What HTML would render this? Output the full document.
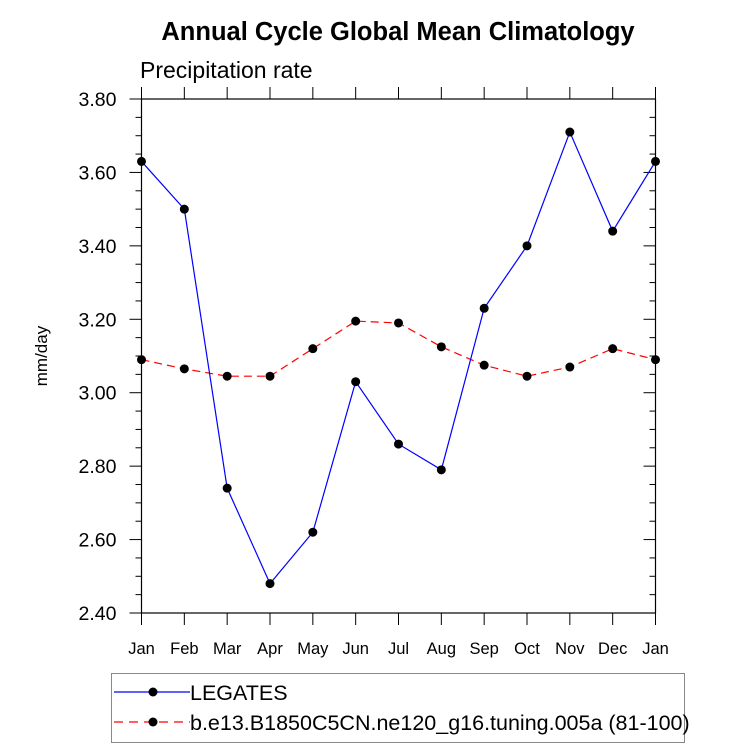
<!DOCTYPE html>
<html><head><meta charset="utf-8"><style>
body{margin:0;background:#fff;}
svg{font-family:"Liberation Sans",sans-serif;}
</style></head><body>
<svg id="chart" width="733" height="748">
<text x="398" y="40" text-anchor="middle" font-size="25.5" font-weight="bold">Annual Cycle Global Mean Climatology</text>
<text x="140" y="78" font-size="23">Precipitation rate</text>
<text transform="translate(47,356) rotate(-90)" text-anchor="middle" font-size="17">mm/day</text>
<g id="axes"></g>
<g id="series"></g>
<g>
<rect x="111.5" y="673.5" width="573" height="69" fill="none" stroke="#888"/>
<g>
<line x1="114" y1="692" x2="190" y2="692" stroke="#0000ff" stroke-width="1.2"/>
<circle cx="153" cy="692" r="4.5" fill="#000"/>
<text x="190" y="700" font-size="21.5">LEGATES</text></g>
<g>
<line x1="114" y1="722" x2="190" y2="722" stroke="#ff0000" stroke-width="1.2" stroke-dasharray="9,6"/>
<circle cx="153" cy="722" r="4.5" fill="#000"/>
<text x="190" y="730" font-size="21.5">b.e13.B1850C5CN.ne120_g16.tuning.005a (81-100)</text></g>
</g>
</svg>
<script>
const months=["Jan","Feb","Mar","Apr","May","Jun","Jul","Aug","Sep","Oct","Nov","Dec","Jan"];
const legates=[3.63,3.50,2.74,2.48,2.62,3.03,2.86,2.79,3.23,3.40,3.71,3.44,3.63];
const model=[3.09,3.065,3.045,3.045,3.12,3.195,3.19,3.125,3.075,3.045,3.07,3.12,3.09];
const yTicks=["2.40","2.60","2.80","3.00","3.20","3.40","3.60","3.80"];
const L=141.5,R=655.5,T=99,B=613,ymin=2.4,ymax=3.8;
const xs=i=>L+(R-L)*i/12;
const ys=v=>B-(v-ymin)/(ymax-ymin)*(B-T);
const NS="http://www.w3.org/2000/svg";
function mk(t,a,p){const e=document.createElementNS(NS,t);for(const k in a)e.setAttribute(k,a[k]);p.appendChild(e);return e;}
const ax=document.getElementById('axes');
const frame=mk('rect',{x:L,y:T,width:R-L,height:B-T,fill:'none',stroke:'#000','stroke-width':1.2},ax);


for(let v=ymin;v<=ymax+1e-6;v+=0.05){
  const y=ys(v);const major=Math.abs(Math.round(v*20)%4)===0;const len=major?12:6;
  mk('line',{x1:L-len,y1:y,x2:L,y2:y,stroke:'#000'},ax);
  mk('line',{x1:R,y1:y,x2:R-len,y2:y,stroke:'#000'},ax);
}
yTicks.forEach(s=>{const t=mk('text',{x:L-25,y:ys(+s)+7,'text-anchor':'end','font-size':19.5},ax);t.textContent=s;

});
months.forEach((m,i)=>{const x=xs(i);
  mk('line',{x1:x,y1:B,x2:x,y2:B+12,stroke:'#000'},ax);
  mk('line',{x1:x,y1:T,x2:x,y2:T-12,stroke:'#000'},ax);
  const t=mk('text',{x:x,y:B+41,'text-anchor':'middle','font-size':16.5},ax);t.textContent=m;
  
  });
const sg=document.getElementById('series');
function draw(data,color,dash,name){
  const g=mk('g',{},sg);
  
  
  const pl=mk('polyline',{points:data.map((v,i)=>xs(i)+','+ys(v)).join(' '),fill:'none',stroke:color,'stroke-width':1.2},g);
  if(dash)pl.setAttribute('stroke-dasharray',dash);
  data.forEach((v,i)=>{const c=mk('circle',{cx:xs(i),cy:ys(v),r:4.5,fill:'#000'},g);
    
    });
}
draw(model,'#ff0000','8,5','model-series');
draw(legates,'#0000ff',null,'legates-series');
</script>
</body></html>
